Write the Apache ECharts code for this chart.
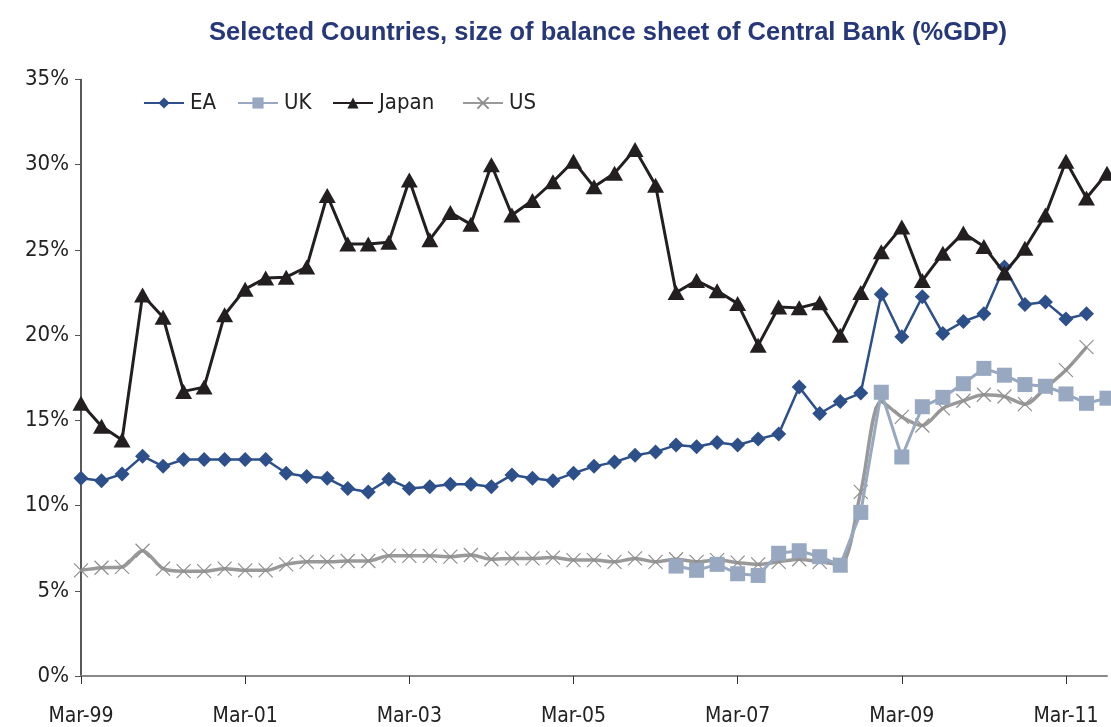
<!DOCTYPE html>
<html>
<head>
<meta charset="utf-8">
<script src="https://cdn.jsdelivr.net/npm/echarts@6/dist/echarts.min.js"></script>
<style>
html, body { margin: 0; padding: 0; background: #fff; }
#chart { width: 1111px; height: 727px; }
</style>
</head>
<body>
<div id="chart"></div>
<script>
// quarters Mar-99 .. Sep-11
var quarters = [];
var months = ['Mar', 'Jun', 'Sep', 'Dec'];
for (var y = 1999; y <= 2011; y++) {
    for (var q = 0; q < 4; q++) {
        quarters.push(months[q] + '-' + String(y).slice(2));
    }
}
quarters = quarters.slice(0, 51);

var yTicks = [0, 5, 10, 15, 20, 25, 30, 35];

var seriesNames = ['EA', 'UK', 'Japan', 'US'];

var eaData = [11.6, 11.45, 11.85, 12.9, 12.3, 12.7, 12.7, 12.7, 12.7, 12.7,
    11.9, 11.7, 11.6, 11.0, 10.8, 11.55, 11.0, 11.1, 11.25, 11.25,
    11.1, 11.8, 11.6, 11.45, 11.9, 12.3, 12.55, 12.95, 13.15, 13.55,
    13.45, 13.7, 13.55, 13.9, 14.2, 16.95, 15.4, 16.1, 16.6, 22.4,
    19.9, 22.25, 20.1, 20.8, 21.25, 24.0, 21.8, 21.95, 20.95, 21.25, null];

var ukData = [null, null, null, null, null, null, null, null, null, null,
    null, null, null, null, null, null, null, null, null, null,
    null, null, null, null, null, null, null, null, null, 6.45,
    6.2, 6.55, 6.0, 5.9, 7.2, 7.35, 7.0, 6.5, 9.6, 16.65,
    12.85, 15.8, 16.35, 17.15, 18.05, 17.65, 17.1, 17.0, 16.55, 16.0, 16.3];

var japanData = [16.0, 14.65, 13.85, 22.35, 21.05, 16.7, 16.95, 21.2, 22.7, 23.35,
    23.4, 24.0, 28.2, 25.35, 25.35, 25.45, 29.1, 25.6, 27.2, 26.5,
    30.0, 27.05, 27.9, 29.0, 30.2, 28.7, 29.5, 30.9, 28.8, 22.5,
    23.2, 22.6, 21.85, 19.4, 21.65, 21.6, 21.9, 20.0, 22.5, 24.9,
    26.35, 23.2, 24.8, 26.0, 25.2, 23.65, 25.1, 27.05, 30.2, 28.05, 29.5];

var usData = [6.2, 6.35, 6.4, 7.35, 6.3, 6.15, 6.15, 6.3, 6.2, 6.2,
    6.55, 6.7, 6.7, 6.75, 6.75, 7.05, 7.05, 7.05, 7.0, 7.1,
    6.85, 6.9, 6.9, 6.95, 6.8, 6.8, 6.7, 6.9, 6.7, 6.85,
    6.7, 6.8, 6.65, 6.55, 6.7, 6.85, 6.7, 6.55, 10.8, 16.1,
    15.2, 14.7, 15.7, 16.15, 16.5, 16.4, 15.95, 16.9, 17.95, 19.3, null];

var narrow = "'Liberation Sans Narrow', 'DejaVu Sans Condensed', Arial, sans-serif";
var crossPath = 'path://M0,0L10,10M10,0L0,10';

// one legend per item so each one sits where it does in the original
var legendLeft = [143, 237, 332, 462];
var legends = seriesNames.map(function (name, i) {
    return {
        left: legendLeft[i],
        top: 92,
        padding: 0,
        itemWidth: 40,
        itemHeight: 14,
        textStyle: {
            fontFamily: narrow,
            fontSize: 22,
            color: '#222',
            padding: [0, 0, 0, 1]
        },
        data: [name]
    };
});

var myChart = echarts.init(document.getElementById('chart'));

var option = {
    animation: false,
    backgroundColor: '#fff',
    title: {
        text: 'Selected Countries, size of balance sheet of Central Bank (%GDP)',
        left: 603,
        top: 15,
        textAlign: 'center',
        textStyle: {
            fontFamily: 'Liberation Sans, Arial, sans-serif',
            fontWeight: 'bold',
            fontSize: 25.5,
            color: '#26377a'
        }
    },
    legend: legends,
    grid: {
        left: 81,
        right: 4,
        top: 79.5,
        bottom: 51
    },
    xAxis: {
        type: 'category',
        data: quarters,
        boundaryGap: false,
        axisLine: { lineStyle: { color: '#888', width: 2 } },
        axisTick: { interval: 7, length: 8, lineStyle: { color: '#333', width: 1 } },
        axisLabel: {
            interval: 7,
            margin: 30,
            fontFamily: narrow,
            fontSize: 21,
            color: '#222'
        },
        splitLine: { show: false }
    },
    yAxis: {
        type: 'value',
        min: yTicks[0],
        max: yTicks[yTicks.length - 1],
        interval: 5,
        axisLine: { show: true, lineStyle: { color: '#222', width: 1.5 } },
        axisTick: { show: true, length: 6, lineStyle: { color: '#555' } },
        axisLabel: {
            margin: 12,
            fontFamily: narrow,
            fontSize: 22,
            color: '#222',
            formatter: '{value}%'
        },
        splitLine: { show: false }
    },
    series: [
        {
            name: 'EA',
            type: 'line',
            data: eaData,
            symbol: 'diamond',
            symbolSize: 15,
            showAllSymbol: true,
            z: 4,
            lineStyle: { color: '#2d4f8a', width: 2.5 },
            itemStyle: { color: '#2d4f8a' }
        },
        {
            name: 'UK',
            type: 'line',
            data: ukData,
            symbol: 'rect',
            symbolSize: 15,
            showAllSymbol: true,
            z: 3,
            lineStyle: { color: '#97a8c0', width: 3 },
            itemStyle: { color: '#97a8c0' }
        },
        {
            name: 'Japan',
            type: 'line',
            data: japanData,
            symbol: 'triangle',
            symbolSize: [17, 15],
            showAllSymbol: true,
            z: 5,
            lineStyle: { color: '#231f20', width: 3 },
            itemStyle: { color: '#231f20' }
        },
        {
            name: 'US',
            type: 'line',
            data: usData,
            smooth: 0.3,
            symbol: crossPath,
            symbolSize: 14,
            showAllSymbol: true,
            z: 2,
            lineStyle: { color: '#999', width: 3.5 },
            itemStyle: { color: '#999', borderColor: '#8f8f8f', borderWidth: 1.2 }
        }
    ]
};

myChart.setOption(option, true);

window.onresize = function () {
    myChart.resize();
};
</script>
</body>
</html>
